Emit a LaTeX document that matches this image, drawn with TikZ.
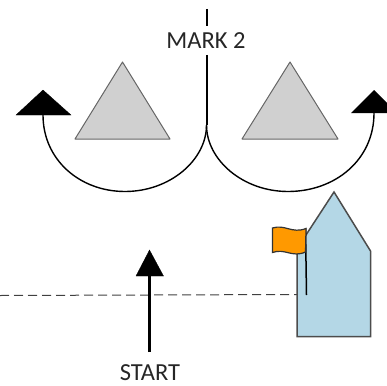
\documentclass[tikz,border=0pt]{standalone}
\usepackage{fontspec}
\setmainfont{Carlito}
\definecolor{buoy}{RGB}{208,208,208}
\definecolor{hull}{RGB}{180,215,230}
\definecolor{flagc}{RGB}{255,153,0}
\tikzset{
  buoyshape/.style={fill=buoy,draw=black!60,line width=1pt,line join=round},
  tipshape/.style={fill=black,draw=black,line width=0.3pt,line join=miter},
  course/.style={draw=black,line width=2pt},
  lab/.style={font=\fontsize{24.5}{26}\selectfont,text=black!85,inner sep=0pt}
}
\begin{document}
\begin{tikzpicture}[x=1pt,y=-1pt]
\useasboundingbox (0,0) rectangle (387,385);
% buoys
\draw[buoyshape] (122.5,62) -- (170,139) -- (75,139) -- cycle;
\draw[buoyshape] (290,62) -- (338,139) -- (242,139) -- cycle;
% mark line and rounding paths
\node[lab] (mark) at (206,41) {MARK 2};
\coordinate (m0) at (206.5,9);
\coordinate (m1) at (206.5,26);
\coordinate (m2) at (206.5,55);
\coordinate (m3) at (206.5,125);
\coordinate (lt) at (43,115);
\coordinate (rt) at (374,113);
\draw[course] (m0) -- (m1);
\draw[course] (m2) -- (m3);
\draw[course,line width=1.4pt] (lt) .. controls (43,160) and (80,191.5) .. (125,191.5)
   .. controls (170,191.5) and (206.5,160) .. (m3);
\draw[course,line width=1.4pt] (m3) .. controls (206.5,160) and (243,191.5) .. (288,191.5)
   .. controls (335,191.5) and (374,160) .. (rt);
\draw[tipshape] (43,90) -- (71,115) -- (16,115) -- cycle;
\fill[black] (374,90) -- (387,103) -- (387,113) -- (351,113) -- cycle;
% start line
\draw[dashed,dash pattern=on 9pt off 5pt,line width=1pt,black!75] (0,295.5) -- (297,294.5);
% boat
\draw[fill=hull,draw=black!70,line width=1.5pt,line join=miter]
  (297,250) -- (297,336.5) -- (370.5,336.5) -- (370.5,251) -- (334,192) -- (304,238) -- cycle;
\draw[black,line width=1.5pt] (305.5,228) -- (306.5,295);
\draw[fill=flagc,draw=black!80,line width=1.2pt]
  (272.5,228) .. controls (285,224) and (292,234) .. (306,228.5)
  -- (305.5,252) .. controls (292,258) and (285,248) .. (272.5,252.5) -- cycle;
% start arrow
\coordinate (s0) at (149.5,352);
\coordinate (s1) at (149.5,274);
\draw[black,line width=2.2pt] (s0) -- (s1);
\draw[tipshape] (149.5,250) -- (163.5,276) -- (136,276) -- cycle;
\node[lab] (start) at (150,373) {START};
\end{tikzpicture}
\end{document}
